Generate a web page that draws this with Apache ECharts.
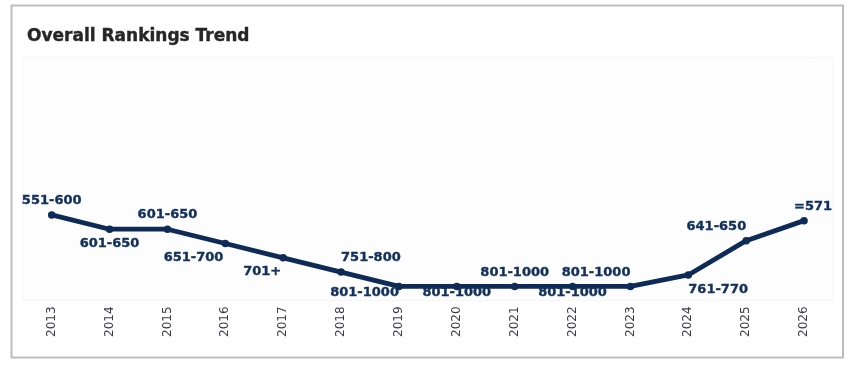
<!DOCTYPE html>
<html>
<head>
<meta charset="utf-8">
<script src="https://cdn.jsdelivr.net/npm/echarts@6/dist/echarts.min.js"></script>
<style>
html,body{margin:0;padding:0;background:#fff;}
#chart{width:859px;height:365px;}
</style>
</head>
<body>
<div id="chart"></div>
<script>
// ---- data ----
var years = ['2013','2014','2015','2016','2017','2018','2019','2020','2021','2022','2023','2024','2025','2026'];
var rankValues = [551, 601, 601, 651, 701, 751, 801, 801, 801, 801, 801, 761, 641, 571];
var rankLabels = ['551-600','601-650','601-650','651-700','701+','751-800','801-1000','801-1000','801-1000','801-1000','801-1000','761-770','641-650','=571'];

// ---- label placement (style only) ----
var labelPlacement = [
  {p:'top', a:'center', o:[0,0]},
  {p:'bottom', a:'center', o:[0,0]},
  {p:'top', a:'center', o:[0,0]},
  {p:'bottom', a:'right', o:[-2,0]},
  {p:'bottom', a:'right', o:[-2,0]},
  {p:'top', a:'left', o:[0,0]},
  {p:'bottom', a:'right', o:[0,-8]},
  {p:'bottom', a:'center', o:[0,-8]},
  {p:'top', a:'center', o:[0,0]},
  {p:'bottom', a:'center', o:[0,-8]},
  {p:'top', a:'right', o:[0,0]},
  {p:'bottom', a:'left', o:[0,0]},
  {p:'top', a:'right', o:[0,0]},
  {p:'top', a:'center', o:[9,0]}
];

var seriesData = rankValues.map(function(v, i){
  var lp = labelPlacement[i];
  return {
    value: v,
    label: {
      show: true,
      position: lp.p,
      align: lp.a,
      offset: lp.o,
      formatter: rankLabels[i]
    }
  };
});

var chart = echarts.init(document.getElementById('chart'), null, {renderer:'canvas'});
chart.setOption({
  animation: false,
  backgroundColor: '#fff',
  title: {
    text: 'Overall Rankings Trend',
    left: 22,
    top: 23,
    textStyle: {
      fontFamily: 'DejaVu Sans',
      fontSize: 17,
      fontWeight: 'bold',
      color: '#262626',
      textBorderColor: '#262626',
      textBorderWidth: 0.4
    }
  },
  graphic: [{
    type: 'rect',
    shape: {x: 11.5, y: 5.5, width: 831.5, height: 352},
    style: {fill: 'none', stroke: '#bdbdbd', lineWidth: 2},
    silent: true,
    z: 100
  }],
  grid: {
    left: 22.75,
    top: 57.4,
    width: 810.25,
    height: 243,
    show: true,
    backgroundColor: '#fdfdfd',
    borderColor: '#f5f5f5',
    borderWidth: 1
  },
  xAxis: {
    type: 'category',
    data: years,
    boundaryGap: true,
    axisLine: {show: false},
    axisTick: {show: false},
    splitLine: {show: false},
    axisLabel: {
      rotate: 90,
      margin: 6,
      fontFamily: 'DejaVu Sans',
      fontSize: 12,
      color: '#3a3a48'
    }
  },
  yAxis: {
    type: 'value',
    inverse: true,
    min: 0,
    max: 850,
    show: false,
    splitLine: {show: false}
  },
  series: [{
    type: 'line',
    data: seriesData,
    symbol: 'circle',
    symbolSize: 7.5,
    showAllSymbol: true,
    lineStyle: {color: '#0e2a56', width: 4.8},
    itemStyle: {color: '#0e2a56'},
    label: {
      show: true,
      distance: 4,
      fontFamily: 'DejaVu Sans',
      fontSize: 13,
      fontWeight: 'bold',
      color: '#12305b',
      textBorderColor: '#12305b',
      textBorderWidth: 0.4
    }
  }]
});
</script>
</body>
</html>
